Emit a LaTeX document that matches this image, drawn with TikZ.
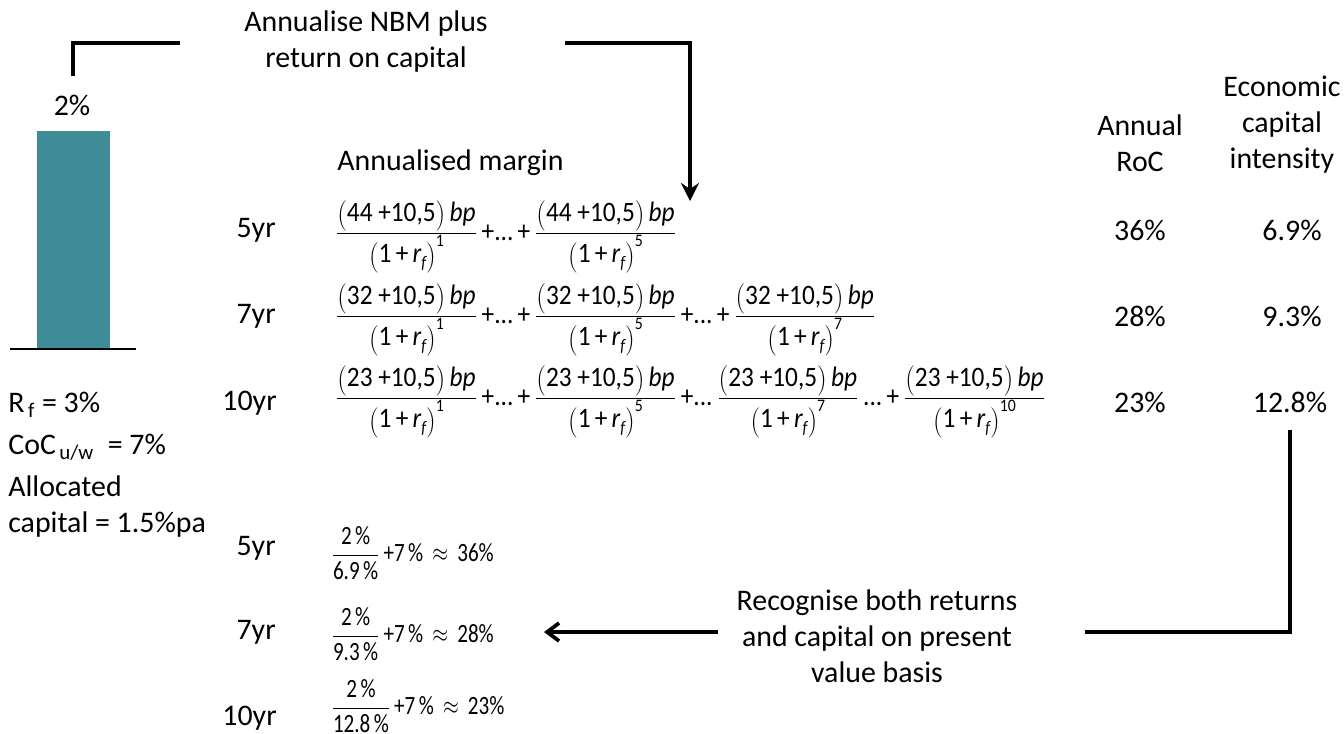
\documentclass[tikz,border=0pt]{standalone}
\usepackage{amsmath}
\usepackage{graphicx}
\usepackage{fontspec}
\setmainfont{Carlito}
\usetikzlibrary{arrows.meta,positioning,backgrounds}
\pgfdeclarelayer{edgelayer}
\pgfdeclarelayer{nodelayer}
\pgfsetlayers{background,edgelayer,nodelayer,main}
\definecolor{barteal}{RGB}{63,139,151}
\newcommand{\txtsize}{\fontsize{17}{20.5}\selectfont}
\newcommand{\lowf}{\raisebox{-0.45ex}{\fontsize{10}{10}\selectfont\itshape f}}
\newcommand{\upn}[1]{\raisebox{1.2ex}{\fontsize{10}{10}\selectfont #1}}
\newcommand{\pvterm}[2]{\tfrac{\left(\mbox{#1 +10,5}\right)\mbox{\,\itshape bp}}{\left(\mbox{1\,+\,\itshape r\lowf}\right)\mbox{\upn{#2}}}}
\newcommand{\rocterm}[2]{\dfrac{\mbox{2\,\%}}{\mbox{#1\,\%}}\mbox{\,+7\,\%\,}\approx\mbox{\,#2\%}}
\newcommand{\narrow}[2]{\scalebox{#1}[1]{$#2$}}
\tikzstyle{none}=[inner sep=0mm]
\tikzstyle{txt}=[inner sep=0mm, align=center]
\tikzstyle{lft}=[inner sep=0mm, anchor=west]
\tikzstyle{yr}=[inner sep=0mm, anchor=east]
\tikzstyle{fm}=[inner sep=0mm, anchor=west, font=\fontsize{16}{19}\selectfont]
\tikzstyle{pv}=[inner sep=0mm, anchor=west, font=\fontsize{15}{18}\selectfont]
\tikzstyle{bar}=[fill=barteal, inner sep=0mm, minimum width=1.46cm, minimum height=4.34cm]
\tikzstyle{bracket}=[line width=2.1pt]
\tikzstyle{axis}=[line width=1.5pt]

\begin{document}
\begin{tikzpicture}[x=0.02cm, y=-0.02cm, font=\txtsize]
	\useasboundingbox (0,0) rectangle (1344,733);
	\begin{pgfonlayer}{nodelayer}
		\node [style=txt] (0) at (366,42) {Annualise NBM plus\\return on capital};
		\node [style=txt] (1) at (72,105) {2\%};
		\node [style=bar] (2) at (73.5,239.5) {};
		\node [style=lft] (3) at (8,405) {R$_{\text{\,f}}$ = 3\%};
		\node [style=lft] (4) at (8,447) {CoC$_{\text{\,u/w}}$ \ = 7\%};
		\node [style=lft, align=left] (5) at (8,507) {Allocated\\capital = 1.5\%pa};
		\node [style=lft] (6) at (337,163) {Annualised margin};
		\node [style=txt] (7) at (1140,143) {Annual\\RoC};
		\node [style=txt] (8) at (1282,125) {Economic\\capital\\intensity};
		\node [style=yr] (10) at (276,230) {5yr};
		\node [style=yr] (11) at (276,316) {7yr};
		\node [style=yr] (12) at (277,403) {10yr};
		\node [style=fm] (13) at (335,237) {\narrow{0.9}{\pvterm{44}{1}\mbox{\,+...\,+\,}\pvterm{44}{5}}};
		\node [style=fm] (14) at (335,320) {\narrow{0.9}{\pvterm{32}{1}\mbox{\,+...\,+\,}\pvterm{32}{5}\mbox{\,+...\,+\,}\pvterm{32}{7}}};
		\node [style=fm] (15) at (335,402) {\narrow{0.9}{\pvterm{23}{1}\mbox{\,+...\,+\,}\pvterm{23}{5}\mbox{\,+...\,}\pvterm{23}{7}\mbox{\,...\,+\,}\pvterm{23}{10}}};
		\node [style=txt] (16) at (1140,230) {36\%};
		\node [style=txt] (17) at (1292,230) {6.9\%};
		\node [style=txt] (18) at (1140,316) {28\%};
		\node [style=txt] (19) at (1292,316) {9.3\%};
		\node [style=txt] (20) at (1140,402) {23\%};
		\node [style=txt] (21) at (1290,402) {12.8\%};
		\node [style=txt] (22) at (877,636) {Recognise both returns\\and capital on present\\value basis};
		\node [style=yr] (23) at (276,548) {5yr};
		\node [style=yr] (24) at (276,632) {7yr};
		\node [style=yr] (25) at (277,718) {10yr};
		\node [style=pv] (26) at (331,553) {\narrow{0.8}{\rocterm{6.9}{36}}};
		\node [style=pv] (27) at (331,634) {\narrow{0.8}{\rocterm{9.3}{28}}};
		\node [style=pv] (28) at (331,706) {\narrow{0.8}{\rocterm{12.8}{23}}};
		\node [style=none] (30) at (73,76) {};
		\node [style=none] (31) at (180,43) {};
		\node [style=none] (32) at (565,43) {};
		\node [style=none] (33) at (690,201) {};
		\node [style=none] (34) at (1290,430) {};
		\node [style=none] (35) at (1085,632) {};
		\node [style=none] (36) at (718,632) {};
		\node [style=none] (37) at (544,632) {};
		\node [style=none] (38) at (10,349) {};
		\node [style=none] (39) at (136,349) {};
	\end{pgfonlayer}
	\begin{pgfonlayer}{edgelayer}
		\draw [style=bracket] (30.center) |- (31.center);
		\draw [style=bracket, -{Stealth[length=3.6mm, width=3.6mm, inset=1.2mm]}] (32.center) -| (33.center);
		\draw [style=bracket] (34.center) |- (35.center);
		\draw [style=bracket, -{Straight Barb[length=2.4mm, width=3.6mm]}] (36.center) to (37.center);
		\draw [style=axis] (38.center) to (39.center);
	\end{pgfonlayer}
\end{tikzpicture}
\end{document}
